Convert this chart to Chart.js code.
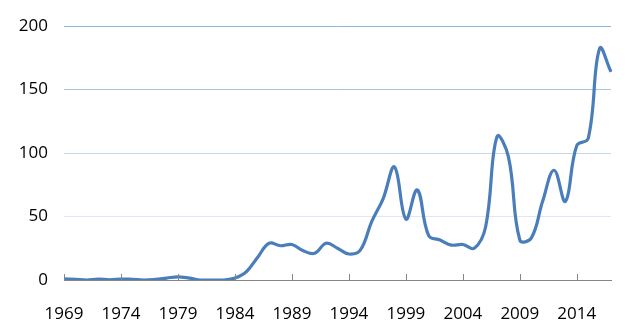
<!DOCTYPE html>
<html>
<head>
<meta charset="utf-8">
<script src="https://cdn.jsdelivr.net/npm/chart.js@4"></script>
<style>
  html, body { margin: 0; padding: 0; background: #fff; }
  #wrap { width: 642px; height: 335px; }
</style>
</head>
<body>
<div id="wrap"><canvas id="lineChart"></canvas></div>
<script>
const years = [];
for (let y = 1969; y <= 2017; y++) years.push(String(y));

const values = [
    1, 0.5, 0, 0.8, 0.2, 0.8, 0.5, 0, 0.5, 1.5,
    2.5, 1.5, 0, 0, 0, 1.5, 6.5, 18, 29, 27,
    28, 23, 21, 29, 25, 20.5, 23.5, 46, 64, 89,
    48, 71, 35, 31.5, 27.5, 28, 25, 42, 113, 97,
    31.5, 33, 62, 86.5, 62, 106, 111.5, 182.5, 164
];

const yTicks = [0, 50, 100, 150, 200];
const gridColors = ['#868686', '#dfe7f4', '#c8d7ee', '#a9c3e7', '#8fb2e0'];

// small tick marks above the x axis, every 5 years
const xTickMarks = {
    id: 'xTickMarks',
    afterDatasetsDraw(chart) {
        const ctx = chart.ctx;
        const xs = chart.scales.x;
        const bottom = chart.chartArea.bottom;
        ctx.save();
        ctx.strokeStyle = '#868686';
        ctx.lineWidth = 1;
        for (let i = 0; i < years.length; i += 5) {
            const px = Math.round(xs.getPixelForValue(i)) + 0.5;
            ctx.beginPath();
            ctx.moveTo(px, bottom - 6);
            ctx.lineTo(px, bottom);
            ctx.stroke();
        }
        ctx.restore();
    }
};

const config = {
    type: 'line',
    data: {
        labels: years,
        datasets: [{
            data: values,
            borderColor: '#4a7ebb',
            borderWidth: 3.2,
            pointRadius: 0,
            tension: 0.4,
            fill: false
        }]
    },
    options: {
        responsive: false,
        animation: false,
        layout: { padding: { top: 26, right: 31, left: 0, bottom: 0 } },
        plugins: {
            legend: { display: false },
            tooltip: { enabled: false }
        },
        scales: {
            x: {
                offset: false,
                grid: { drawOnChartArea: false, drawTicks: false },
                border: { color: '#868686', width: 1 },
                ticks: {
                    autoSkip: false,
                    maxRotation: 0,
                    padding: 24,
                    color: '#000',
                    font: { family: 'Open Sans', size: 17 },
                    callback: (v, i) => (i % 5 === 0 ? years[i] : '')
                },
                afterFit: (scale) => { scale.height = 55; }
            },
            y: {
                min: 0,
                max: 200,
                afterBuildTicks: (scale) => { scale.ticks = yTicks.map(v => ({ value: v })); },
                grid: {
                    drawTicks: false,
                    color: (c) => gridColors[yTicks.indexOf(c.tick.value)] || '#ddd'
                },
                border: { display: false },
                ticks: {
                    padding: 16,
                    color: '#000',
                    font: { family: 'Open Sans', size: 17 }
                },
                afterFit: (scale) => { scale.width = 64; }
            }
        }
    },
    plugins: [xTickMarks]
};

const canvas = document.getElementById('lineChart');
canvas.width = 642;
canvas.height = 335;
const lineChart = new Chart(canvas, config);
</script>
</body>
</html>
